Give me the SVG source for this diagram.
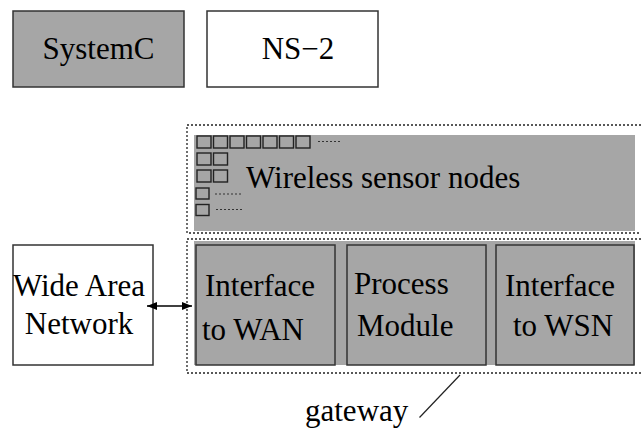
<svg xmlns="http://www.w3.org/2000/svg" width="641" height="430" viewBox="0 0 641 430">
<style>
.t{font-family:'Liberation Serif','Times New Roman','DejaVu Serif',serif;font-size:31px;fill:#000}
.box{stroke:#333;stroke-width:1.5}
.g{fill:#a6a6a6}
.dot{fill:none;stroke:#222;stroke-width:1.3;stroke-dasharray:2,2}
.sq{fill:#a6a6a6;stroke:#222;stroke-width:1.4}
.dl{fill:none;stroke:#333;stroke-width:1;stroke-dasharray:2,2}
</style>
<defs>
<marker id="ah" markerWidth="10" markerHeight="8" refX="10" refY="4" orient="auto-start-reverse" markerUnits="userSpaceOnUse">
<path d="M0,0 L10,4 L0,8 Z" fill="#000"/>
</marker>
</defs>
<rect width="641" height="430" fill="#fff"/>
<g id="systemc">
<rect class="box g" x="13" y="11" width="171" height="76"/>
<text class="t" x="98.5" y="59" text-anchor="middle" font-family="Liberation Serif">SystemC</text>
</g>
<g id="ns2">
<rect class="box" fill="#fff" x="207" y="11" width="171" height="76"/>
<text class="t" x="298" y="59" text-anchor="middle">NS−2</text>
</g>
<g id="wsn">
<rect class="dot" x="187" y="125" width="460" height="108"/>
<rect class="g" x="194" y="135" width="441" height="96"/>
<rect class="sq" x="197" y="136" width="14" height="12"/>
<rect class="sq" x="213.5" y="136" width="14" height="12"/>
<rect class="sq" x="230" y="136" width="14" height="12"/>
<rect class="sq" x="246.5" y="136" width="14" height="12"/>
<rect class="sq" x="263" y="136" width="14" height="12"/>
<rect class="sq" x="279.5" y="136" width="14" height="12"/>
<rect class="sq" x="296" y="136" width="14" height="12"/>
<line class="dl" x1="318" y1="141.5" x2="342" y2="141.5"/>
<rect class="sq" x="197" y="153" width="14" height="12"/>
<rect class="sq" x="213.5" y="153" width="14" height="12"/>
<rect class="sq" x="197" y="170" width="14" height="12"/>
<rect class="sq" x="213.5" y="170" width="14" height="12"/>
<rect class="sq" x="196" y="188" width="13" height="11"/>
<line class="dl" x1="215" y1="194" x2="243" y2="194"/>
<rect class="sq" x="196" y="204.5" width="13" height="11"/>
<line class="dl" x1="216" y1="209.5" x2="244" y2="209.5"/>
<text class="t" x="246" y="188">Wireless sensor nodes</text>
</g>
<g id="gateway">
<rect class="dot" x="187" y="239" width="460" height="134"/>
<rect class="g" x="194" y="241" width="441" height="124"/>
<line x1="460" y1="375" x2="419.5" y2="417.5" stroke="#222" stroke-width="1.2"/>
<text class="t" x="305" y="421">gateway</text>
</g>
<g id="wan">
<rect class="box" fill="#fff" x="13" y="245" width="140" height="120"/>
<text class="t" x="79" y="296" text-anchor="middle">Wide Area</text>
<text class="t" x="79" y="334" text-anchor="middle">Network</text>
</g>
<g id="iface-wan">
<rect class="box g" x="196" y="245" width="139" height="120"/>
<text class="t" x="205" y="296">Interface</text>
<text class="t" x="202" y="340">to WAN</text>
</g>
<g id="process">
<rect class="box g" x="347" y="245" width="139" height="120"/>
<text class="t" x="354" y="294">Process</text>
<text class="t" x="357" y="336">Module</text>
</g>
<g id="iface-wsn">
<rect class="box g" x="496" y="245" width="138" height="120"/>
<text class="t" x="505" y="296">Interface</text>
<text class="t" x="513" y="336">to WSN</text>
</g>
<g id="connectors">
<line x1="147" y1="306" x2="192" y2="306" stroke="#000" stroke-width="1.3" marker-start="url(#ah)" marker-end="url(#ah)"/>
</g>
</svg>
